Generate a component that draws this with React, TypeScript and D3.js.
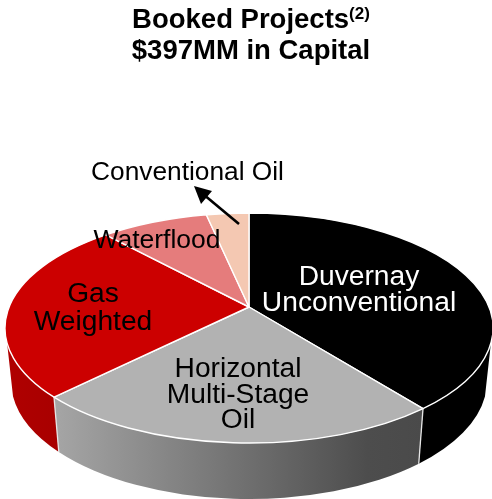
import React from "react";
import * as d3 from "d3";

const categories = ["Duvernay Unconventional", "Horizontal Multi-Stage Oil", "Gas Weighted", "Waterflood", "Conventional Oil"];
const shares = [37.4, 27.4, 25.3, 7.2, 2.8];
const topColors = ["#000000", "#b2b2b2", "#cc0000", "#e57c7c", "#f4c8b2"];
const wallColors = ["#000000", "url(#greyWall)", "url(#redWall)", "#e57c7c", "#f4c8b2"];
const titleLines = ["Booked Projects", "$397MM in Capital"];
const footnote = "(2)";

const W = 492, H = 499;
const top = { cx: 249, cy: 328, rx: 244, ry: 115 };
const bottom = { cx: 249, cy: 381, rx: 238, ry: 118 };
const apex: [number, number] = [249, 307];
const wallFrom = (97.5 * Math.PI) / 180;
const wallTo = (262.5 * Math.PI) / 180;

type E = typeof top;
const pt = (e: E, a: number): [number, number] => [e.cx + e.rx * Math.sin(a), e.cy - e.ry * Math.cos(a)];
const arcTo = (e: E, a0: number, a1: number) => {
  const [x, y] = pt(e, a1);
  const large = Math.abs(a1 - a0) > Math.PI ? 1 : 0;
  const sweep = a1 > a0 ? 1 : 0;
  return `A${e.rx},${e.ry} 0 ${large} ${sweep} ${x},${y}`;
};

const slices = d3.pie<number>().sort(null).value((d) => d)(shares);

const fontFamily = "'Liberation Sans', Arial, sans-serif";

function Label({ x, y, lines, fill = "#000", lh = 25.5, size = 28.2 }: { x: number; y: number; lines: string[]; fill?: string; lh?: number; size?: number }) {
  return (
    <text style={{ fontFamily, fontSize: size }} fill={fill} textAnchor="middle">
      {lines.map((l, i) => (
        <tspan key={i} x={x} y={y + i * lh}>{l}</tspan>
      ))}
    </text>
  );
}

export default function App() {
  const walls = slices.map((s, i) => {
    const a0 = Math.max(s.startAngle, wallFrom);
    const a1 = Math.min(s.endAngle, wallTo);
    if (a1 <= a0) return null;
    const [x0, y0] = pt(top, a0);
    const [bx1, by1] = pt(bottom, a1);
    const d = `M${x0},${y0} ${arcTo(top, a0, a1)} L${bx1},${by1} ${arcTo(bottom, a1, a0)} Z`;
    return <path key={i} d={d} fill={wallColors[i]} />;
  });
  const seam = slices[0].endAngle;
  const seam2 = slices[1].endAngle;
  const [sx, sy] = pt(top, seam);
  const [sbx, sby] = pt(bottom, seam);
  const [tx, ty] = pt(top, seam2);
  const [tbx, tby] = pt(bottom, seam2);

  return (
    <svg width={W} height={H} style={{ position: "fixed", left: 0, top: 0, display: "block" }}>
      <defs>
        <linearGradient id="greyWall" gradientUnits="userSpaceOnUse" x1={53} x2={423} y1={0} y2={0}>
          <stop offset="0" stopColor="#a6a6a6" />
          <stop offset="0.85" stopColor="#4d4d4d" />
          <stop offset="1" stopColor="#4a4a4a" />
        </linearGradient>
        <linearGradient id="redWall" gradientUnits="userSpaceOnUse" x1={5} x2={58} y1={0} y2={0}>
          <stop offset="0" stopColor="#b00000" />
          <stop offset="1" stopColor="#a80000" />
        </linearGradient>
      </defs>
      {walls}
      <line x1={sx} y1={sy} x2={sbx} y2={sby} stroke="#e6e6e6" strokeWidth={1.3} />
      <line x1={tx} y1={ty} x2={tbx} y2={tby} stroke="#e6e6e6" strokeWidth={1.3} />
      {slices.map((s, i) => {
        const [x0, y0] = pt(top, s.startAngle);
        const d = `M${apex[0]},${apex[1]} L${x0},${y0} ${arcTo(top, s.startAngle, s.endAngle)} Z`;
        return <path key={categories[i]} d={d} fill={topColors[i]} stroke="#fff" strokeWidth={1.4} strokeLinejoin="round" />;
      })}
      <text style={{ fontFamily, fontSize: 27.5, fontWeight: 700 }} textAnchor="middle" fill="#000">
        <tspan x={251} y={28}>{titleLines[0]}<tspan dy={-9} fontSize={17}>{footnote}</tspan></tspan>
        <tspan x={251} y={59}>{titleLines[1]}</tspan>
      </text>
      <Label x={359} y={285} lines={["Duvernay", "Unconventional"]} fill="#fff" />
      <Label x={238} y={377} lines={["Horizontal", "Multi-Stage", "Oil"]} />
      <Label x={93} y={302} lines={["Gas", "Weighted"]} lh={28} />
      <Label x={157} y={248} lines={["Waterflood"]} size={26.5} />
      <Label x={187.5} y={180} lines={["Conventional Oil"]} size={26.3} />
      <line x1={239} y1={224} x2={203} y2={194} stroke="#000" strokeWidth={2.6} />
      <path d="M194,186 L212,191 L201,204 Z" fill="#000" />
    </svg>
  );
}
